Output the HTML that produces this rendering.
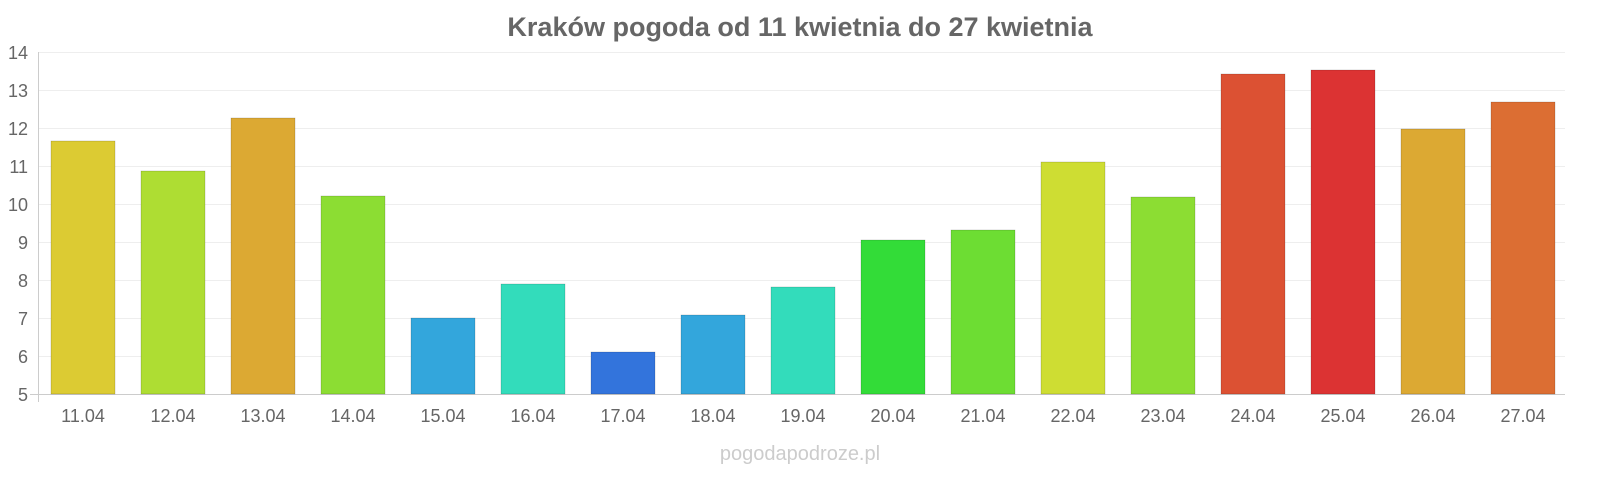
<!DOCTYPE html>
<html><head><meta charset="utf-8"><style>
body{margin:0;background:#fff;width:1600px;height:480px;overflow:hidden;font-family:"Liberation Sans",sans-serif;}
</style></head><body>
<svg width="1600" height="480" xmlns="http://www.w3.org/2000/svg" font-family="Liberation Sans, sans-serif">
<text x="800" y="36" text-anchor="middle" font-size="27" font-weight="bold" fill="#666">Kraków pogoda od 11 kwietnia do 27 kwietnia</text>
<g stroke="#eee" stroke-width="1">
<line x1="38" x2="1565" y1="52.5" y2="52.5"/><line x1="38" x2="1565" y1="90.5" y2="90.5"/><line x1="38" x2="1565" y1="128.5" y2="128.5"/><line x1="38" x2="1565" y1="166.5" y2="166.5"/><line x1="38" x2="1565" y1="204.5" y2="204.5"/><line x1="38" x2="1565" y1="242.5" y2="242.5"/><line x1="38" x2="1565" y1="280.5" y2="280.5"/><line x1="38" x2="1565" y1="318.5" y2="318.5"/><line x1="38" x2="1565" y1="356.5" y2="356.5"/>
</g>
<line x1="38.5" x2="38.5" y1="52" y2="402" stroke="#ccc"/>
<line x1="30" x2="1565" y1="394.5" y2="394.5" stroke="#ccc"/>
<g font-size="18" fill="#666" text-anchor="end">
<text x="28" y="59">14</text><text x="28" y="97">13</text><text x="28" y="135">12</text><text x="28" y="173">11</text><text x="28" y="211">10</text><text x="28" y="249">9</text><text x="28" y="287">8</text><text x="28" y="325">7</text><text x="28" y="363">6</text><text x="28" y="401">5</text>
</g>
<g stroke-opacity="0.3" stroke="#000" stroke-width="0.5">
<rect x="51" y="141" width="64" height="253" fill="#dccb33"/>
<rect x="141" y="171" width="64" height="223" fill="#aedd33"/>
<rect x="231" y="118" width="64" height="276" fill="#dca933"/>
<rect x="321" y="196" width="64" height="198" fill="#8cdd33"/>
<rect x="411" y="318" width="64" height="76" fill="#33a6dc"/>
<rect x="501" y="284" width="64" height="110" fill="#33dcbb"/>
<rect x="591" y="352" width="64" height="42" fill="#3374dc"/>
<rect x="681" y="315" width="64" height="79" fill="#33a6dc"/>
<rect x="771" y="287" width="64" height="107" fill="#33dcbb"/>
<rect x="861" y="240" width="64" height="154" fill="#33dc38"/>
<rect x="951" y="230" width="64" height="164" fill="#6ddd33"/>
<rect x="1041" y="162" width="64" height="232" fill="#cedd33"/>
<rect x="1131" y="197" width="64" height="197" fill="#8cdd33"/>
<rect x="1221" y="74" width="64" height="320" fill="#dc5133"/>
<rect x="1311" y="70" width="64" height="324" fill="#dc3333"/>
<rect x="1401" y="129" width="64" height="265" fill="#dca933"/>
<rect x="1491" y="102" width="64" height="292" fill="#dc6e33"/>
</g>
<g font-size="18" fill="#666" text-anchor="middle">
<text x="83" y="422">11.04</text><text x="173" y="422">12.04</text><text x="263" y="422">13.04</text><text x="353" y="422">14.04</text><text x="443" y="422">15.04</text><text x="533" y="422">16.04</text><text x="623" y="422">17.04</text><text x="713" y="422">18.04</text><text x="803" y="422">19.04</text><text x="893" y="422">20.04</text><text x="983" y="422">21.04</text><text x="1073" y="422">22.04</text><text x="1163" y="422">23.04</text><text x="1253" y="422">24.04</text><text x="1343" y="422">25.04</text><text x="1433" y="422">26.04</text><text x="1523" y="422">27.04</text>
</g>
<text x="800" y="460" text-anchor="middle" font-size="20" fill="#ccc">pogodapodroze.pl</text>
</svg>
</body></html>
